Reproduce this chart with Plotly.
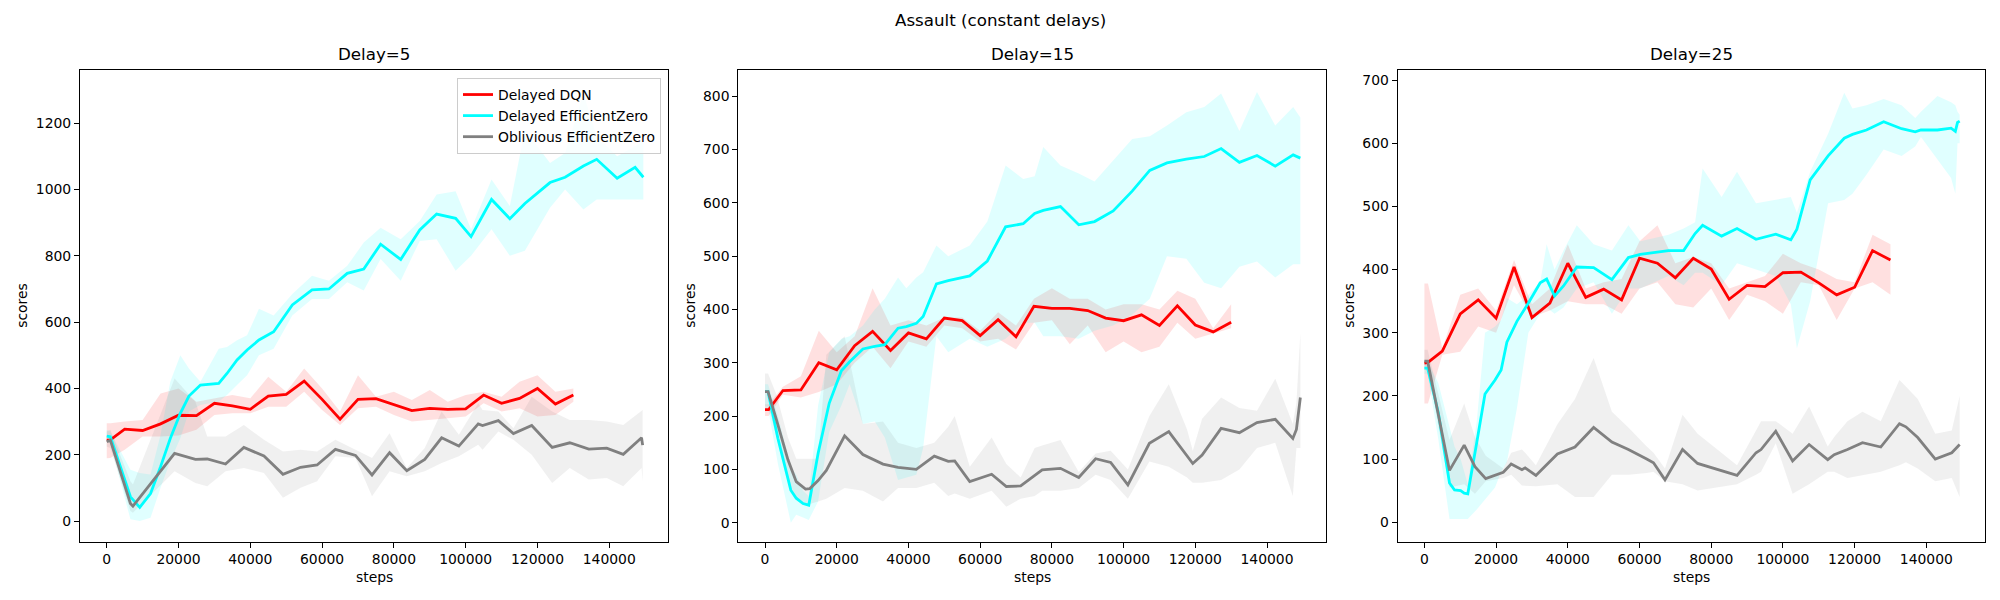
import plotly.graph_objects as go

# ---------------- data ----------------
DQN_STEPS = [0, 1000, 5000, 10000, 15000, 20000, 25000, 30000, 35000, 40000, 45000, 50000, 55000,
             60000, 65000, 70000, 75000, 80000, 85000, 90000, 95000, 100000, 105000, 110000,
             115000, 120000, 125000, 130000]

# Delay = 5
DQN5 = [244, 245, 277, 273, 293, 319, 318, 355, 347, 337, 377, 382, 422, 367, 307, 367, 369, 350,
        333, 340, 337, 338, 380, 355, 370, 400, 353, 380]
DQN5_LO = [189, 190, 215, 255, 255, 258, 275, 320, 325, 325, 345, 345, 390, 335, 290, 340, 345, 320,
           300, 305, 310, 315, 355, 330, 340, 315, 320, 360]
DQN5_HI = [295, 295, 300, 305, 385, 400, 360, 370, 380, 370, 435, 390, 460, 400, 330, 440, 375, 390,
           365, 395, 360, 380, 390, 375, 420, 440, 390, 400]

EZ5_STEPS = [0, 1000, 6600, 9200, 12200, 15000, 17700, 20500, 22900, 26100, 31200, 33500, 36300,
             39100, 42400, 46500, 51700, 57200, 61900, 67000, 71600, 76300, 81900, 87200, 91900,
             97200, 101500, 107200, 112300, 116500, 123500, 127700, 132800, 136500, 142200, 147200,
             149500]
EZ5 = [256, 254, 73, 41, 83, 164, 249, 325, 377, 410, 415, 445, 486, 516, 546, 571, 652, 697, 700,
       747, 760, 835, 789, 878, 926, 913, 858, 970, 912, 958, 1021, 1037, 1071, 1091, 1034, 1067, 1037]
EZ5_LO = [240, 235, 5, 0, 10, 100, 180, 250, 330, 350, 360, 380, 410, 440, 500, 520, 620, 670, 670,
          720, 695, 790, 725, 845, 850, 755, 800, 880, 800, 815, 945, 1000, 940, 970, 970, 970, 970]
EZ5_HI = [275, 270, 155, 145, 140, 260, 420, 500, 460, 420, 520, 525, 545, 560, 640, 620, 685, 740,
          725, 770, 840, 885, 850, 905, 985, 995, 880, 1030, 950, 1180, 1080, 1110, 1290, 1160, 1100,
          1130, 1145]

OEZ5_STEPS = [0, 1000, 6600, 7300, 18900, 24700, 28000, 33100, 38200, 43800, 49100, 54000, 58600,
              63700, 69300, 73900, 78800, 83600, 88600, 93300, 98100, 103500, 104700, 109100, 113300,
              118400, 124100, 129000, 134300, 139300, 143900, 149000, 149300]
OEZ5 = [239, 244, 53, 45, 204, 186, 187, 172, 222, 196, 141, 162, 169, 216, 198, 139, 206, 152, 186,
        251, 226, 293, 288, 303, 264, 288, 222, 236, 217, 220, 201, 251, 229]
OEZ5_LO = [225, 220, 30, 25, 150, 115, 105, 150, 160, 145, 70, 100, 120, 195, 190, 75, 150, 135, 150,
           175, 195, 230, 215, 270, 245, 200, 115, 160, 125, 130, 105, 160, 120]
OEZ5_HI = [270, 275, 120, 110, 430, 360, 255, 255, 290, 245, 210, 215, 210, 245, 215, 190, 265, 160,
           220, 330, 260, 355, 335, 330, 280, 375, 330, 305, 305, 300, 290, 335, 335]

# Delay = 15
DQN15 = [212, 212, 248, 249, 300, 287, 332, 359, 323, 356, 345, 384, 379, 351, 381, 349, 406, 402,
         402, 398, 384, 379, 390, 370, 407, 371, 358, 376]
DQN15_LO = [200, 200, 240, 235, 245, 260, 300, 330, 290, 340, 330, 370, 365, 340, 345, 325, 375, 380,
            335, 370, 320, 340, 320, 330, 375, 345, 355, 365]
DQN15_HI = [222, 222, 255, 275, 360, 320, 350, 440, 370, 380, 370, 385, 385, 360, 395, 370, 420, 440,
            420, 420, 400, 410, 410, 400, 435, 420, 365, 410]

EZ15_STEPS = [0, 840, 3600, 7200, 8700, 10600, 12200, 14800, 17900, 21300, 23600, 27300, 30600,
              33400, 37100, 39400, 42200, 44100, 47800, 51100, 57100, 62000, 67100, 72000, 75200,
              77600, 82400, 87500, 91900, 97100, 102400, 107300, 112100, 117500, 122500, 127200,
              132300, 137200, 142300, 147300, 149300]
EZ15 = [246, 246, 158, 61, 46, 36, 33, 130, 224, 285, 302, 326, 331, 334, 365, 368, 374, 387, 448,
        454, 463, 491, 555, 561, 580, 586, 593, 559, 565, 585, 622, 661, 675, 682, 687, 702, 676,
        689, 669, 690, 684]
EZ15_LO = [210, 215, 110, 0, 15, 10, 5, 40, 170, 220, 260, 185, 190, 160, 80, 85, 90, 140, 350, 320,
           345, 330, 345, 375, 375, 350, 350, 345, 360, 370, 390, 420, 500, 495, 450, 440, 480, 490,
           460, 485, 485]
EZ15_HI = [260, 260, 200, 105, 90, 60, 50, 220, 320, 345, 350, 370, 400, 420, 460, 440, 460, 470,
           520, 500, 520, 565, 670, 645, 650, 705, 670, 655, 640, 680, 720, 725, 745, 770, 780, 805,
           735, 808, 745, 780, 760]

OEZ15_STEPS = [0, 840, 3200, 6400, 8700, 11300, 12500, 14800, 17100, 22200, 27300, 32900, 37100,
               42200, 47200, 51100, 52900, 57100, 63200, 67300, 71300, 75200, 77300, 82400, 87500,
               92200, 96400, 101200, 107200, 112600, 117700, 119300, 121900, 127200, 132300, 137200,
               142300, 147200, 148200, 149300]
OEZ15 = [246, 246, 193, 118, 77, 63, 64, 79, 98, 163, 128, 110, 104, 100, 125, 115, 116, 77, 91, 68,
         69, 88, 99, 102, 85, 120, 113, 71, 149, 171, 124, 111, 127, 177, 169, 188, 194, 158, 175, 235]
OEZ15_LO = [220, 220, 160, 80, 45, 35, 35, 40, 45, 65, 60, 40, 65, 65, 75, 50, 55, 45, 60, 30, 45,
            50, 60, 60, 65, 90, 80, 45, 115, 105, 85, 75, 75, 80, 100, 140, 150, 50, 140, 140]
OEZ15_HI = [280, 280, 240, 160, 120, 120, 120, 120, 315, 350, 185, 190, 150, 140, 150, 180, 200, 105,
            160, 110, 85, 140, 145, 155, 95, 130, 135, 100, 200, 260, 175, 135, 195, 235, 215, 210,
            270, 185, 225, 355]

# Delay = 25
DQN25 = [252, 253, 271, 330, 352, 323, 404, 324, 347, 410, 356, 369, 352, 418, 410, 387, 418, 401,
         353, 375, 373, 395, 396, 379, 360, 372, 430, 415]
DQN25_LO = [188, 188, 265, 270, 310, 300, 375, 325, 335, 350, 345, 345, 330, 370, 380, 345, 340, 370,
            320, 360, 350, 330, 380, 375, 320, 370, 380, 360]
DQN25_HI = [378, 378, 275, 360, 370, 335, 415, 345, 370, 440, 370, 380, 385, 445, 470, 410, 420, 410,
            370, 380, 390, 425, 410, 400, 385, 380, 455, 440]

EZ25_STEPS = [0, 900, 3900, 7000, 8400, 10100, 11100, 12100, 14600, 16900, 19700, 21400, 23000,
              25800, 29000, 32300, 34100, 36300, 38800, 42500, 47200, 52300, 56900, 60200, 68100,
              72300, 75500, 77600, 82900, 87200, 92500, 98000, 102200, 103900, 107600, 112600,
              117100, 119400, 123300, 128100, 133100, 136900, 138500, 143100, 146900, 148100,
              148700, 149300]
EZ25 = [244, 244, 173, 62, 51, 50, 46, 45, 126, 203, 225, 241, 285, 318, 347, 379, 385, 358, 374,
        404, 403, 384, 419, 424, 430, 430, 457, 470, 453, 465, 448, 456, 447, 464, 542, 580, 608,
        614, 621, 634, 623, 618, 621, 621, 624, 619, 633, 635]
EZ25_LO = [235, 235, 130, 5, 5, 5, 5, 5, 20, 35, 55, 80, 95, 180, 300, 330, 340, 330, 340, 370, 380,
           330, 370, 370, 390, 375, 395, 395, 375, 410, 400, 390, 345, 275, 350, 505, 510, 520, 550,
           590, 580, 595, 610, 575, 545, 520, 600, 600]
EZ25_HI = [255, 255, 220, 150, 120, 100, 80, 60, 160, 300, 310, 320, 355, 345, 360, 380, 440, 400,
           430, 470, 440, 430, 470, 445, 455, 465, 475, 560, 515, 555, 505, 510, 515, 490, 555, 615,
           680, 655, 660, 670, 660, 640, 650, 675, 665, 660, 650, 645]

OEZ25_STEPS = [0, 900, 7000, 11100, 14100, 17100, 22000, 24200, 27200, 28100, 31100, 37100, 42000,
               47200, 52300, 56900, 62000, 63900, 67100, 72000, 76200, 87200, 92500, 93900, 98000,
               102700, 107300, 112500, 114300, 118000, 122200, 127300, 132500, 134300, 137600,
               142500, 147100, 149300]
OEZ25 = [255, 255, 82, 122, 88, 69, 79, 92, 83, 86, 74, 108, 119, 150, 127, 115, 100, 94, 67, 115,
         93, 74, 110, 115, 144, 97, 123, 99, 107, 115, 126, 119, 156, 151, 134, 100, 110, 123]
OEZ25_LO = [245, 245, 55, 60, 45, 65, 70, 75, 58, 57, 57, 60, 40, 40, 75, 75, 78, 80, 65, 60, 50,
            60, 75, 80, 125, 45, 60, 80, 80, 70, 75, 80, 90, 95, 85, 65, 70, 40]
OEZ25_HI = [273, 273, 130, 188, 135, 105, 85, 110, 115, 110, 90, 155, 195, 260, 175, 150, 120, 110,
            85, 170, 140, 90, 145, 160, 160, 140, 183, 120, 135, 160, 175, 160, 225, 215, 195, 140,
            145, 200]

SERIES_NAMES = ["Delayed DQN", "Delayed EfficientZero", "Oblivious EfficientZero"]
PANEL_TITLES = ["Delay=5", "Delay=15", "Delay=25"]
X_TICKS = [0, 20000, 40000, 60000, 80000, 100000, 120000, 140000]

# ---------------- styling ----------------
FONT = "DejaVu Sans"
FS_SMALL = 13.9
FS_TITLE = 16.7
LINE_COLORS = ["#ff0000", "#00ffff", "#808080"]
FILL_COLORS = ["rgba(255,0,0,0.12)", "rgba(0,255,255,0.12)", "rgba(128,128,128,0.12)"]
W, H = 2000, 600
AX_TOP, AX_BOT = 70.0, 541.7
AX_X = [(80.0, 668.3), (738.3, 1326.0), (1397.7, 1985.3)]
Y_RANGES = [(-62.4, 1360.5), (-35.6, 849.3), (-30.9, 716.0)]
Y_DTICK = [200, 100, 100]
X_RANGE = (-7450, 156450)
YLABEL_X = [22, 690, 1349]

panels = [
    [(DQN_STEPS, DQN5, DQN5_LO, DQN5_HI), (EZ5_STEPS, EZ5, EZ5_LO, EZ5_HI),
     (OEZ5_STEPS, OEZ5, OEZ5_LO, OEZ5_HI)],
    [(DQN_STEPS, DQN15, DQN15_LO, DQN15_HI), (EZ15_STEPS, EZ15, EZ15_LO, EZ15_HI),
     (OEZ15_STEPS, OEZ15, OEZ15_LO, OEZ15_HI)],
    [(DQN_STEPS, DQN25, DQN25_LO, DQN25_HI), (EZ25_STEPS, EZ25, EZ25_LO, EZ25_HI),
     (OEZ25_STEPS, OEZ25, OEZ25_LO, OEZ25_HI)],
]

fig = go.Figure()
for p, series in enumerate(panels):
    xa = "x" if p == 0 else f"x{p+1}"
    ya = "y" if p == 0 else f"y{p+1}"
    # bands first
    for s, (xs, ys, lo, hi) in enumerate(series):
        fig.add_trace(go.Scatter(
            x=list(xs) + list(xs)[::-1], y=list(hi) + list(lo)[::-1],
            fill="toself", fillcolor=FILL_COLORS[s], line=dict(width=0),
            mode="lines", hoverinfo="skip", showlegend=False, xaxis=xa, yaxis=ya))
    for s, (xs, ys, lo, hi) in enumerate(series):
        fig.add_trace(go.Scatter(
            x=xs, y=ys, mode="lines", name=SERIES_NAMES[s],
            line=dict(color=LINE_COLORS[s], width=2.8),
            showlegend=(p == 0), xaxis=xa, yaxis=ya))

axis_common = dict(showline=True, mirror=True, linecolor="black", linewidth=1.1,
                   ticks="outside", ticklen=5, tickwidth=1.1, tickcolor="black",
                   showgrid=False, zeroline=False,
                   tickfont=dict(family=FONT, size=FS_SMALL, color="black"))
layout = dict(width=W, height=H, margin=dict(l=0, r=0, t=0, b=0),
              paper_bgcolor="white", plot_bgcolor="white",
              font=dict(family=FONT, size=FS_SMALL, color="black"),
              legend=dict(x=661 / W, xanchor="right", y=1 - 78 / H, yanchor="top",
                          bgcolor="rgba(255,255,255,0.8)", bordercolor="#cccccc", borderwidth=1,
                          font=dict(family=FONT, size=FS_SMALL, color="black"),
                          tracegroupgap=0, itemwidth=30))
ydom = [1 - AX_BOT / H, 1 - AX_TOP / H]
annotations = []
for p in range(3):
    xk = "xaxis" if p == 0 else f"xaxis{p+1}"
    yk = "yaxis" if p == 0 else f"yaxis{p+1}"
    x0, x1 = AX_X[p]
    layout[xk] = dict(domain=[x0 / W, x1 / W], range=list(X_RANGE), tickvals=X_TICKS,
                      tickformat="d", anchor="y" if p == 0 else f"y{p+1}", **axis_common)
    layout[yk] = dict(domain=ydom, range=list(Y_RANGES[p]), dtick=Y_DTICK[p], tick0=0,
                      anchor="x" if p == 0 else f"x{p+1}", **axis_common)
    cx = (x0 + x1) / 2 / W
    annotations.append(dict(text=PANEL_TITLES[p], x=cx, y=1 - 54 / H, xref="paper", yref="paper",
                            xanchor="center", yanchor="middle", showarrow=False,
                            font=dict(family=FONT, size=FS_TITLE, color="black")))
    annotations.append(dict(text="steps", x=cx, y=1 - 577 / H, xref="paper", yref="paper",
                            xanchor="center", yanchor="middle", showarrow=False,
                            font=dict(family=FONT, size=FS_SMALL, color="black")))
    annotations.append(dict(text="scores", x=YLABEL_X[p] / W, y=1 - (AX_TOP + AX_BOT) / 2 / H,
                            xref="paper", yref="paper", xanchor="center", yanchor="middle",
                            textangle=-90, showarrow=False,
                            font=dict(family=FONT, size=FS_SMALL, color="black")))
annotations.append(dict(text="Assault (constant delays)", x=0.5, y=1 - 20 / H, xref="paper",
                        yref="paper", xanchor="center", yanchor="middle", showarrow=False,
                        font=dict(family=FONT, size=FS_TITLE, color="black")))
layout["annotations"] = annotations
fig.update_layout(**layout)
fig.write_html("out.html", config={"displayModeBar": False},
               post_script="document.body.style.margin='0';document.body.style.overflow='hidden';")
